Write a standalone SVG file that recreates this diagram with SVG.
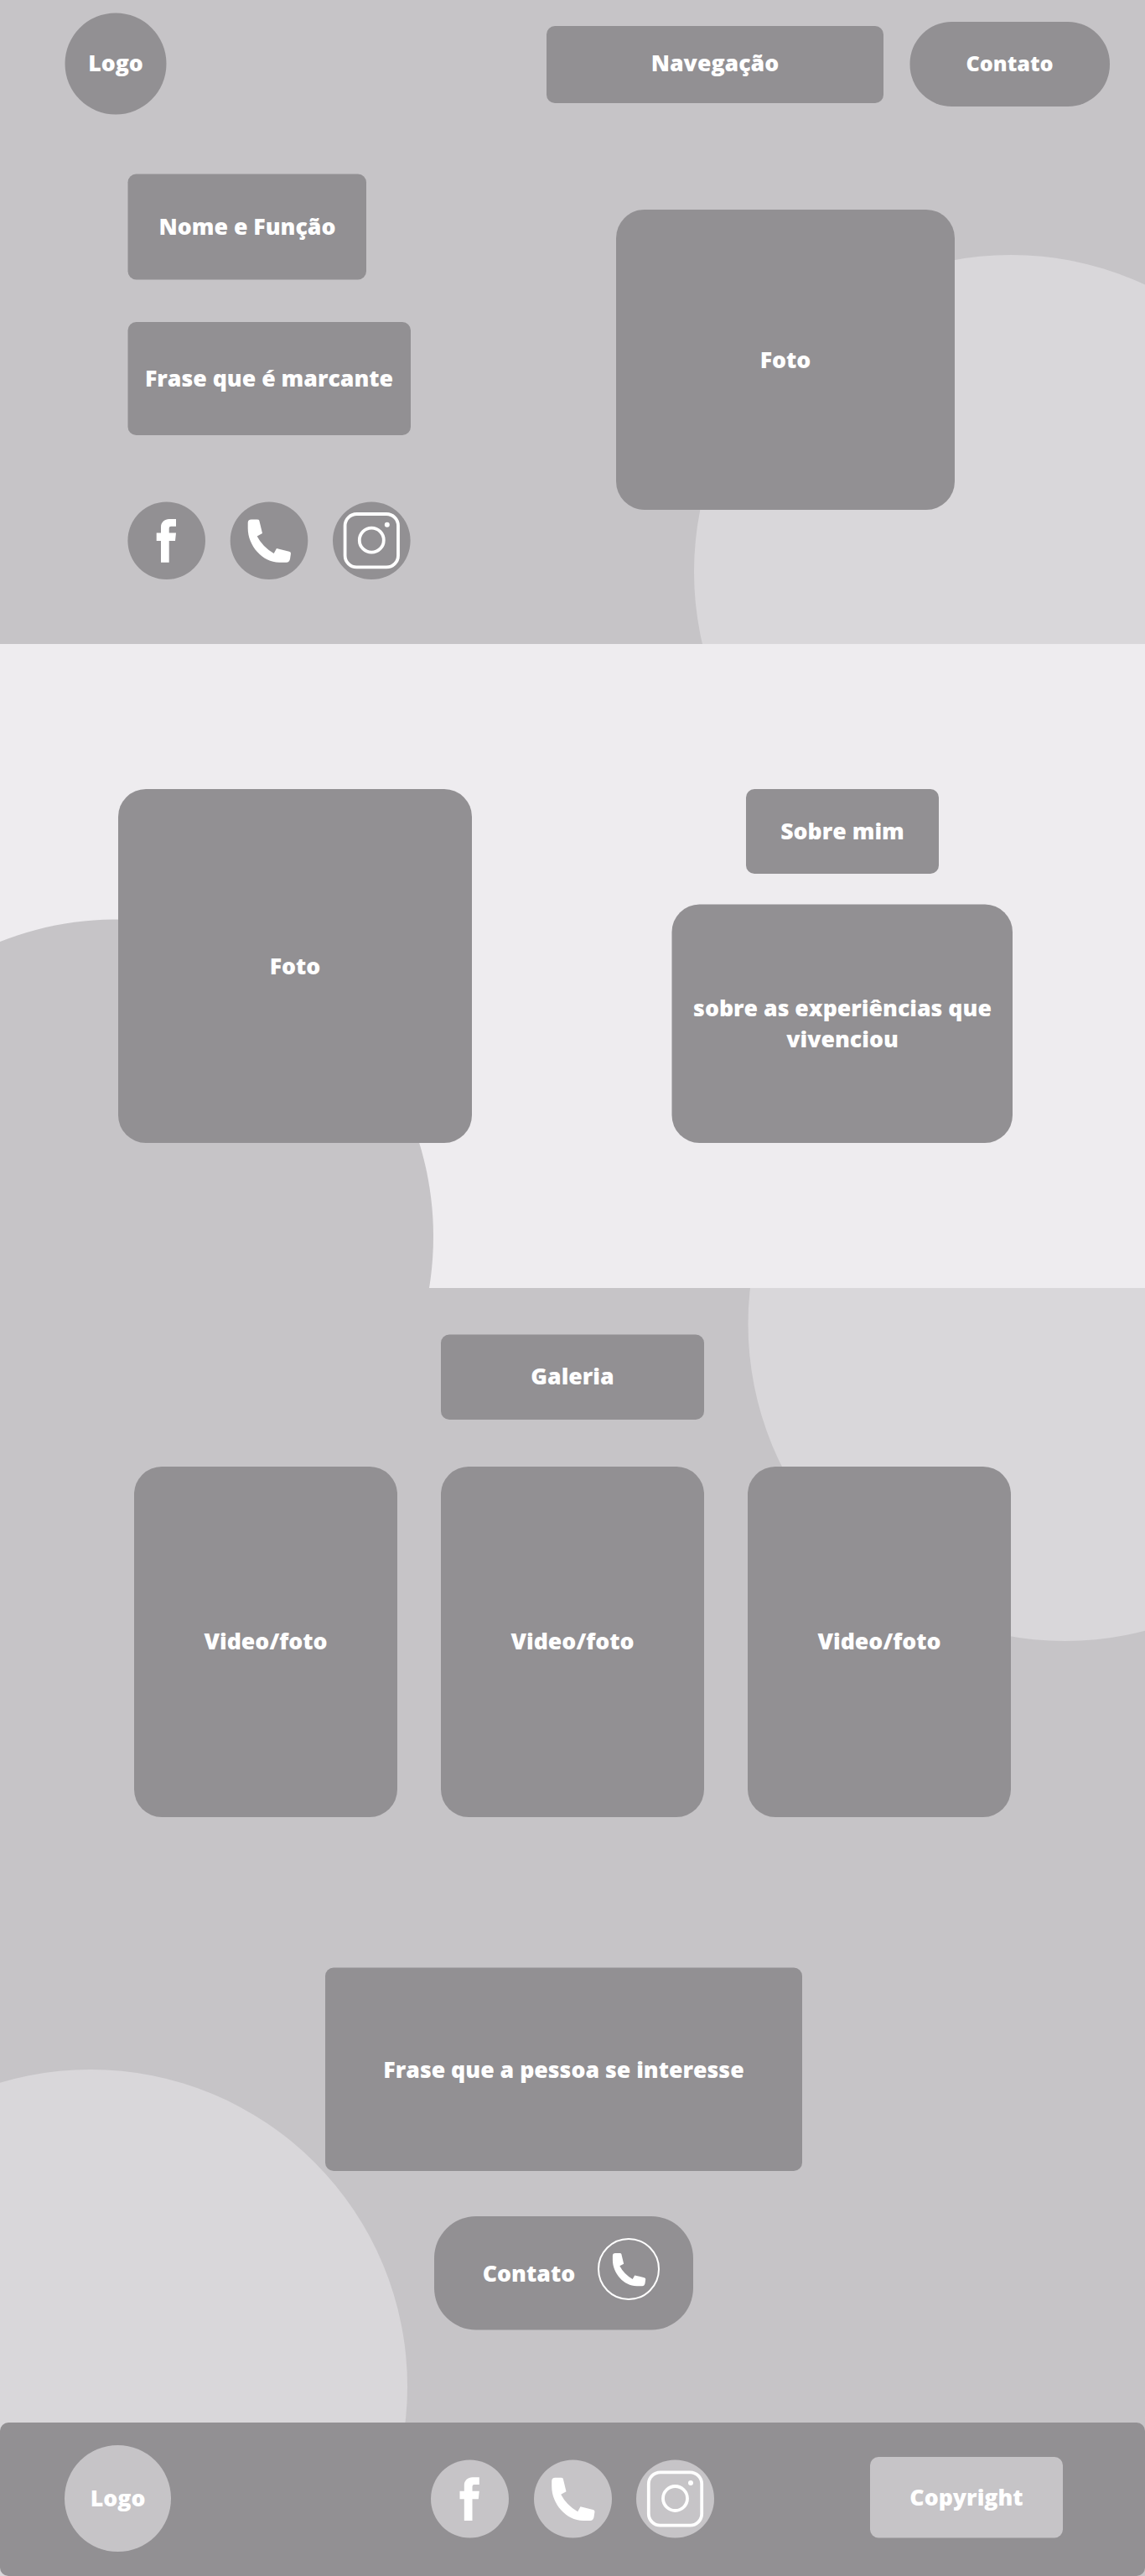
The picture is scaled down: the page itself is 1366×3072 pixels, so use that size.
<svg xmlns="http://www.w3.org/2000/svg" xmlns:xlink="http://www.w3.org/1999/xlink" width="1366" height="3072" viewBox="0 0 1366 3072">
<style>
.bg{fill:#c6c4c7}.light{fill:#d9d7da}.band{fill:#eeecef}.node{fill:#929093}.soft{fill:#c6c4c7}
text{font-family:"Open Sans","Noto Sans",sans-serif;font-weight:800;font-size:26.7px;fill:#fff;text-anchor:middle}
.small{font-size:25.2px}
.ico{fill:#fff}.line{fill:none;stroke:#fff;stroke-width:3.8}
</style>
<defs>
<path id="fb" class="ico" d="M11.3,-25.7V-17H5.3Q3,-17 3,-14.7V-9.3H11.3L10.3,.3H3V26H-6.7V.3H-12V-9.3H-6.7V-16.3C-6.7,-22 -2,-25.7 3,-25.7Z"/>
<path id="ph" class="ico" d="M-21,-25.3L-14.3,-25.3Q-12,-25.3 -11.7,-24L-8,-8.7L-14.3,-5.3Q-8,7 5.7,15.3L9,9.3L24,13Q26,13.5 26,15.3L25,22Q24,26 20.7,26L12.3,26C-8,26 -25.3,6 -25.3,-14.7L-25.3,-21.3Q-25.3,-25.3 -21,-25.3Z"/>
<g id="ig"><rect class="line" x="-31.7" y="-31.7" width="63.4" height="63.4" rx="14"/><circle class="line" cx="0" cy="-.5" r="14.5"/><circle class="ico" cx="18.5" cy="-19" r="3"/></g>
</defs>
<rect id="page" class="bg" width="1366" height="3072"/>
<g id="shapes">
<circle class="light" cx="1206" cy="682" r="378"/>
<circle class="light" cx="1270.5" cy="1579" r="378"/>
<circle class="light" cx="108" cy="2846" r="378"/>
<rect id="about-band" class="band" y="768" width="1366" height="768"/>
<path class="bg" d="M0,1123A378,378 0 0 1 517,1474Q517,1506 512,1536H0Z"/>
</g>
<g id="logo"><circle class="node" cx="138" cy="76" r="60.5"/><text x="138" y="85">Logo</text></g>
<g id="nav"><rect class="node" x="652" y="31" width="402" height="92" rx="10"/><text x="853" y="85">Navegação</text></g>
<g id="contact-top"><rect class="node" x="1085.5" y="26" width="238.5" height="101" rx="50"/><text class="small" x="1204.5" y="85">Contato</text></g>
<g id="name"><rect class="node" x="152.5" y="207.5" width="284.5" height="126" rx="10"/><text x="295" y="280">Nome e Função</text></g>
<g id="phrase"><rect class="node" x="152.5" y="384" width="337.5" height="135" rx="10"/><text x="321" y="461">Frase que é marcante</text></g>
<g id="social-facebook"><circle class="node" cx="198.7" cy="644.7" r="46.3"/><use href="#fb" x="198.7" y="644.7"/></g>
<g id="social-phone"><circle class="node" cx="321" cy="644.7" r="46.3"/><use href="#ph" x="321" y="644.7"/></g>
<g id="social-instagram"><circle class="node" cx="443.3" cy="644.7" r="46.3"/><use href="#ig" x="443.3" y="644.7"/></g>
<g id="hero-photo"><rect class="node" x="735" y="250" width="404" height="358" rx="34"/><text x="937" y="439">Foto</text></g>
<g id="about-photo"><rect class="node" x="141" y="941" width="422" height="422" rx="33"/><text x="352" y="1162">Foto</text></g>
<g id="about-title"><rect class="node" x="890" y="941" width="230" height="101" rx="10"/><text x="1005" y="1001">Sobre mim</text></g>
<g id="about-text"><rect class="node" x="801.5" y="1078.5" width="406.5" height="284.5" rx="33"/><text x="1005" y="1212">sobre as experiências que</text><text x="1005" y="1249">vivenciou</text></g>
<g id="gallery-title"><rect class="node" x="526" y="1591.5" width="314" height="101.5" rx="10"/><text x="683" y="1651">Galeria</text></g>
<g id="gallery-1"><rect class="node" x="160" y="1749" width="314" height="418" rx="33"/><text x="317" y="1967">Video/foto</text></g>
<g id="gallery-2"><rect class="node" x="526" y="1749" width="314" height="418" rx="33"/><text x="683" y="1967">Video/foto</text></g>
<g id="gallery-3"><rect class="node" x="892" y="1749" width="314" height="418" rx="33"/><text x="1049" y="1967">Video/foto</text></g>
<g id="cta-phrase"><rect class="node" x="388" y="2346.5" width="569" height="242.5" rx="10"/><text x="672.5" y="2478">Frase que a pessoa se interesse</text></g>
<g id="cta-contact"><rect class="node" x="518" y="2643" width="309" height="135.5" rx="50"/><text x="631" y="2720.5">Contato</text><circle cx="750" cy="2706" r="36" fill="none" stroke="#fff" stroke-width="2"/><use href="#ph" transform="translate(750.3 2706.3) scale(.767)"/></g>
<g id="footer"><rect class="node" y="2889" width="1366" height="183" rx="10"/></g>
<g id="footer-logo"><circle class="soft" cx="140.5" cy="2979.5" r="63.5"/><text x="140.7" y="2989">Logo</text></g>
<g id="footer-facebook"><circle class="soft" cx="560.5" cy="2980" r="46.5"/><use href="#fb" x="560.5" y="2980"/></g>
<g id="footer-phone"><circle class="soft" cx="683.5" cy="2980" r="46.5"/><use href="#ph" x="683.5" y="2980"/></g>
<g id="footer-instagram"><circle class="soft" cx="805.5" cy="2980" r="46.5"/><use href="#ig" x="805.5" y="2980"/></g>
<g id="copyright"><rect class="soft" x="1038" y="2930" width="230" height="96.5" rx="10"/><text x="1153" y="2987.5">Copyright</text></g>
</svg>
